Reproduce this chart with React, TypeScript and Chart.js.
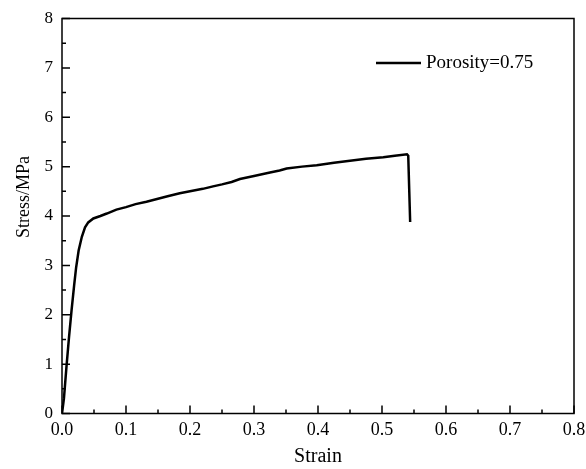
import React, { useEffect, useRef } from "react";
import { Chart, registerables } from "chart.js";

Chart.register(...registerables);

const strain = [0, 0.003, 0.007, 0.011, 0.015, 0.019, 0.022, 0.026, 0.031, 0.036, 0.041, 0.049, 0.06, 0.07, 0.085, 0.1, 0.115, 0.132, 0.15, 0.165, 0.184, 0.2, 0.22, 0.236, 0.25, 0.265, 0.278, 0.3, 0.325, 0.34, 0.351, 0.375, 0.398, 0.425, 0.45, 0.475, 0.502, 0.52, 0.539, 0.541, 0.544];
const stress = [0, 0.3, 0.95, 1.55, 2.1, 2.6, 2.95, 3.3, 3.58, 3.77, 3.87, 3.95, 4.0, 4.05, 4.13, 4.18, 4.24, 4.29, 4.35, 4.4, 4.46, 4.5, 4.55, 4.6, 4.64, 4.69, 4.75, 4.81, 4.88, 4.92, 4.96, 5.0, 5.03, 5.08, 5.12, 5.16, 5.19, 5.22, 5.25, 5.22, 3.88];
const seriesLabel = "Porosity=0.75";
const xTitle = "Strain";
const yTitle = "Stress/MPa";
const xMajor = [0, 0.1, 0.2, 0.3, 0.4, 0.5, 0.6, 0.7, 0.8];
const yMajor = [0, 1, 2, 3, 4, 5, 6, 7, 8];

const FONT = "'Liberation Serif', 'Times New Roman', serif";

const framePlugin = {
  id: "frame",
  afterDraw(chart: any) {
    const { ctx, chartArea, scales } = chart;
    const { left, right, top, bottom } = chartArea;
    ctx.save();
    ctx.strokeStyle = "#000";
    ctx.lineWidth = 1.5;
    ctx.strokeRect(left, top, right - left, bottom - top);
    ctx.beginPath();
    for (let i = 0; i < xMajor.length; i++) {
      const px = scales.x.getPixelForValue(xMajor[i]);
      ctx.moveTo(px, bottom);
      ctx.lineTo(px, bottom - 8);
      if (i < xMajor.length - 1) {
        const mx = scales.x.getPixelForValue((xMajor[i] + xMajor[i + 1]) / 2);
        ctx.moveTo(mx, bottom);
        ctx.lineTo(mx, bottom - 4);
      }
    }
    for (let i = 0; i < yMajor.length; i++) {
      const py = scales.y.getPixelForValue(yMajor[i]);
      ctx.moveTo(left, py);
      ctx.lineTo(left + 8, py);
      if (i < yMajor.length - 1) {
        const my = scales.y.getPixelForValue((yMajor[i] + yMajor[i + 1]) / 2);
        ctx.moveTo(left, my);
        ctx.lineTo(left + 4, my);
      }
    }
    ctx.stroke();
    // legend
    const ly = 63;
    ctx.lineWidth = 2.5;
    ctx.beginPath();
    ctx.moveTo(376, ly);
    ctx.lineTo(421, ly);
    ctx.stroke();
    ctx.fillStyle = "#000";
    ctx.font = `19px ${FONT}`;
    ctx.textBaseline = "middle";
    ctx.textAlign = "left";
    ctx.fillText(seriesLabel, 426, ly);
    // y title
    ctx.save();
    ctx.translate(24, 197);
    ctx.rotate(-Math.PI / 2);
    ctx.font = `18px ${FONT}`;
    ctx.textAlign = "center";
    ctx.textBaseline = "middle";
    ctx.fillText(yTitle, 0, 0);
    ctx.restore();
    ctx.restore();
  },
};

export default function App() {
  const ref = useRef<HTMLCanvasElement>(null);
  useEffect(() => {
    document.body.style.margin = "0";
    const chart = new Chart(ref.current!, {
      type: "line",
      data: {
        datasets: [
          {
            label: seriesLabel,
            data: strain.map((x, i) => ({ x, y: stress[i] })),
            borderColor: "#000",
            borderWidth: 2.5,
            pointRadius: 0,
            tension: 0,
            fill: false,
          },
        ],
      },
      options: {
        animation: false,
        responsive: false,
        layout: { padding: { left: 0, right: 12, top: 18.5, bottom: 0 } },
        plugins: { legend: { display: false }, tooltip: { enabled: false } },
        scales: {
          x: {
            type: "linear",
            min: 0,
            max: 0.8,
            grid: { display: false, drawTicks: false },
            border: { display: false },
            ticks: {
              stepSize: 0.1,
              padding: 6,
              color: "#000",
              font: { family: FONT, size: 18 },
              callback: (v: any) => Number(v).toFixed(1),
            },
            title: {
              display: true,
              text: xTitle,
              color: "#000",
              font: { family: FONT, size: 20 },
              padding: { top: 0, bottom: 0 },
            },
            afterFit: (s: any) => {
              s.height = 55.5;
              s.paddingLeft = 0;
              s.paddingRight = 0;
            },
          },
          y: {
            type: "linear",
            min: 0,
            max: 8,
            grid: { display: false, drawTicks: false },
            border: { display: false },
            ticks: {
              stepSize: 1,
              padding: 9,
              color: "#000",
              font: { family: FONT, size: 17 },
            },
            title: { display: false },
            afterFit: (s: any) => {
              s.width = 62;
              s.paddingTop = 0;
              s.paddingBottom = 0;
            },
          },
        },
      },
      plugins: [framePlugin],
    });
    return () => chart.destroy();
  }, []);
  return (
    <div style={{ width: 586, height: 469, background: "#fff" }}>
      <canvas ref={ref} width={586} height={469} style={{ display: "block" }} />
    </div>
  );
}
